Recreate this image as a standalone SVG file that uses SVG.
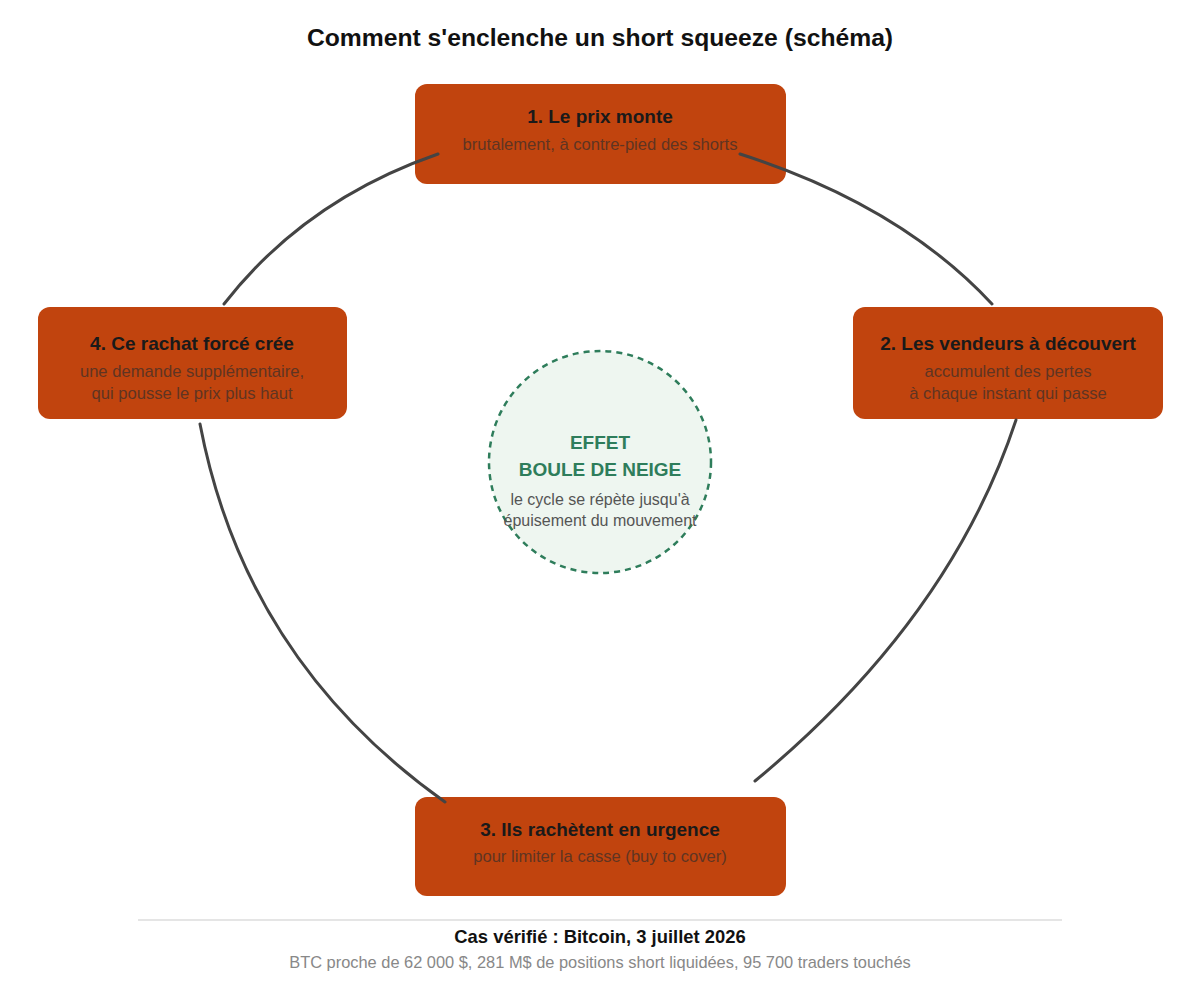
<svg xmlns="http://www.w3.org/2000/svg" width="1200" height="985" viewBox="0 0 1200 985">
<style>
text{font-family:"Liberation Sans",Arial,sans-serif;text-anchor:middle}
.title{font-size:24.7px;font-weight:bold;fill:#111}
.box{fill:#C1440E}
.bt{font-size:19px;font-weight:bold;fill:#1a1a1a}
.bs{font-size:16.6px;fill:#5f3422}
.conn{fill:none;stroke:#444;stroke-width:3;stroke-linecap:round}
.ct{font-size:19px;font-weight:bold;fill:#2E7D5B}
.cs{font-size:16px;fill:#555}
</style>
<rect width="1200" height="985" fill="#fff"/>
<text class="title" x="600" y="46">Comment s'enclenche un short squeeze (schéma)</text>
<g id="center">
<circle cx="600" cy="462" r="111" fill="#EEF6F0" stroke="#2E7D5B" stroke-width="2.5" stroke-dasharray="6 5"/>
<text class="ct" x="600" y="449">EFFET</text>
<text class="ct" x="600" y="476">BOULE DE NEIGE</text>
<text class="cs" x="600" y="505">le cycle se répète jusqu'à</text>
<text class="cs" x="600" y="526">épuisement du mouvement</text>
</g>
<g id="node1">
<rect class="box" x="415" y="84" width="371" height="100" rx="12"/>
<text class="bt" x="600" y="123">1. Le prix monte</text>
<text class="bs" x="600" y="150">brutalement, à contre-pied des shorts</text>
</g>
<g id="node2">
<rect class="box" x="853" y="307" width="310" height="112" rx="12"/>
<text class="bt" x="1008" y="350">2. Les vendeurs à découvert</text>
<text class="bs" x="1008" y="377">accumulent des pertes</text>
<text class="bs" x="1008" y="399">à chaque instant qui passe</text>
</g>
<g id="node3">
<rect class="box" x="415" y="797" width="371" height="99" rx="12"/>
<text class="bt" x="600" y="836">3. Ils rachètent en urgence</text>
<text class="bs" x="600" y="862">pour limiter la casse (buy to cover)</text>
</g>
<g id="node4">
<rect class="box" x="38" y="307" width="309" height="112" rx="12"/>
<text class="bt" x="192" y="350">4. Ce rachat forcé crée</text>
<text class="bs" x="192" y="377">une demande supplémentaire,</text>
<text class="bs" x="192" y="399">qui pousse le prix plus haut</text>
</g>
<g id="connectors">
<path class="conn" d="M438,154 Q305,200 224,304"/>
<path class="conn" d="M740,154 Q900,205 992,304"/>
<path class="conn" d="M1016,420 Q950,620 755,781"/>
<path class="conn" d="M200,424 Q245,660 445,802"/>
</g>
<g id="footer">
<line x1="138" y1="920" x2="1062" y2="920" stroke="#ddd" stroke-width="1.5"/>
<text x="600" y="943" font-size="18.4px" font-weight="bold" fill="#111">Cas vérifié : Bitcoin, 3 juillet 2026</text>
<text x="600" y="968" font-size="16.4px" fill="#888">BTC proche de 62 000 $, 281 M$ de positions short liquidées, 95 700 traders touchés</text>
</g>
</svg>
